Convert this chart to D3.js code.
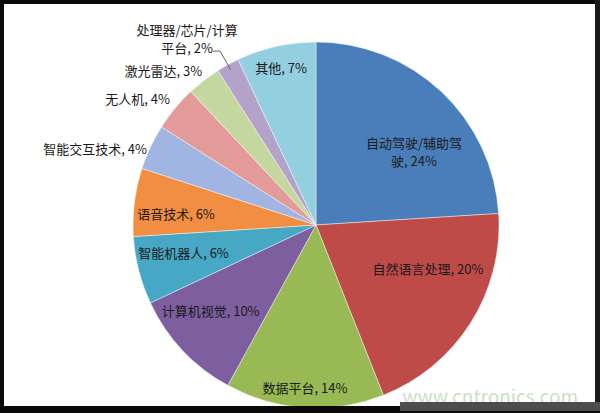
<!DOCTYPE html>
<html>
<head>
<meta charset="utf-8">
<script src="https://cdn.jsdelivr.net/npm/d3@7"></script>
<style>
  html, body { margin: 0; padding: 0; background: #fff; }
  svg { display: block; }
  text { font-family: "Noto Sans CJK SC", "Noto Sans", sans-serif; }
</style>
</head>
<body>
<svg id="chart" width="600" height="413"></svg>
<script>
// ---- data ----
const categories = ["自动驾驶/辅助驾驶", "自然语言处理", "数据平台", "计算机视觉", "智能机器人", "语音技术",
                    "智能交互技术", "无人机", "激光雷达", "处理器/芯片/计算平台", "其他"];
const values = [24, 20, 14, 10, 6, 6, 4, 4, 3, 2, 7];
// label text lines as drawn in the chart
const labelLines = [
  ["自动驾驶/辅助驾", "驶, 24%"],
  ["自然语言处理, 20%"],
  ["数据平台, 14%"],
  ["计算机视觉, 10%"],
  ["智能机器人, 6%"],
  ["语音技术, 6%"],
  ["智能交互技术, 4%"],
  ["无人机, 4%"],
  ["激光雷达, 3%"],
  ["处理器/芯片/计算", "平台, 2%"],
  ["其他, 7%"]
];
const watermark = "www.cntronics.com";

// ---- layout / style ----
const colors = ["#4a7ebb", "#be4b48", "#98b954", "#7d5fa0", "#46a8c4", "#f28e42",
                "#a1b5e2", "#e39b99", "#c4d79e", "#b3a3c9", "#94cfe0"];
// label anchor: [angle deg clockwise from top, radius fraction, text-anchor]
const labelLayout = [
  [52.9, 0.671, "middle"], [111.0, 0.656, "middle"], [183.9, 0.887, "middle"],
  [231.1, 0.740, "middle"], [258.5, 0.739, "middle"], [274.9, 0.768, "middle"],
  [294.5, 1.015, "end"], [311.0, 1.057, "end"], [323.7, 1.051, "end"],
  [325.4, 1.241, "middle"], [347.5, 0.884, "middle"]
];
const W = 600, H = 413;
const cx = 316, cy = 225, R = 183;
const fontSize = 13, lineH = 18;

const svg = d3.select("#chart");

const g = svg.append("g").attr("transform", `translate(${cx},${cy})`);

const pie = d3.pie().sort(null).value(d => d)(values);
const arc = d3.arc().innerRadius(0).outerRadius(R);

g.selectAll("path.slice").data(pie).enter().append("path")
  .attr("class", "slice")
  .attr("d", arc)
  .attr("fill", (d, i) => colors[i])
  .attr("stroke", "#ffffff")
  .attr("stroke-opacity", 0.55)
  .attr("stroke-width", 0.8);

// label positions
function polar(angleDeg, frac) {
  const a = angleDeg * Math.PI / 180;
  return d3.arc().innerRadius(R * frac).outerRadius(R * frac).centroid({startAngle: a, endAngle: a});
}

labelLayout.forEach((L, i) => {
  const [x, y] = polar(L[0], L[1]);
  const lines = labelLines[i];
  const t = g.append("text")
    .attr("text-anchor", L[2])
    .attr("font-size", fontSize)
    .attr("fill", "#1a1a1a")
    .attr("dominant-baseline", "central");
  lines.forEach((s, k) => {
    t.append("tspan")
      .attr("x", x)
      .attr("y", y + (k - (lines.length - 1) / 2) * lineH)
      .text(s);
  });
});

// leader line for the small 2% slice
{
  const sl = pie[9];
  const mid = (sl.startAngle + sl.endAngle) / 2;
  const inner = d3.arc().innerRadius(R * 0.97).outerRadius(R * 0.97).centroid({startAngle: mid, endAngle: mid});
  const [lx, ly] = polar(labelLayout[9][0], labelLayout[9][1]);
  const start = [lx + 26, ly + lineH / 2 + 4];
  g.append("polyline")
    .attr("points", [[start[0], start[1]], [start[0] + 7, start[1]], inner].map(p => p.join(",")).join(" "))
    .attr("fill", "none")
    .attr("stroke", "#666")
    .attr("stroke-width", 1);
}

// watermark
svg.append("text")
  .attr("x", 578).attr("y", 404)
  .attr("text-anchor", "end")
  .attr("font-family", "Liberation Sans, Arial, sans-serif")
  .attr("font-size", 19)
  .attr("fill", "#cde0c6")
  .text(watermark);

// frame
svg.append("rect").attr("x", 0).attr("y", 0).attr("width", W).attr("height", 4).attr("fill", "#0a0a0a");
svg.append("rect").attr("x", 0).attr("y", 0).attr("width", 4).attr("height", H).attr("fill", "#0a0a0a");
svg.append("rect").attr("x", 595).attr("y", 0).attr("width", 5).attr("height", H).attr("fill", "#1a1a1a");
svg.append("rect").attr("x", 0).attr("y", 406).attr("width", W).attr("height", 7).attr("fill", "#0a0a0a");
svg.append("rect").attr("x", 400).attr("y", 402).attr("width", 200).attr("height", 9).attr("fill", "#4d4d4d");
</script>
</body>
</html>
